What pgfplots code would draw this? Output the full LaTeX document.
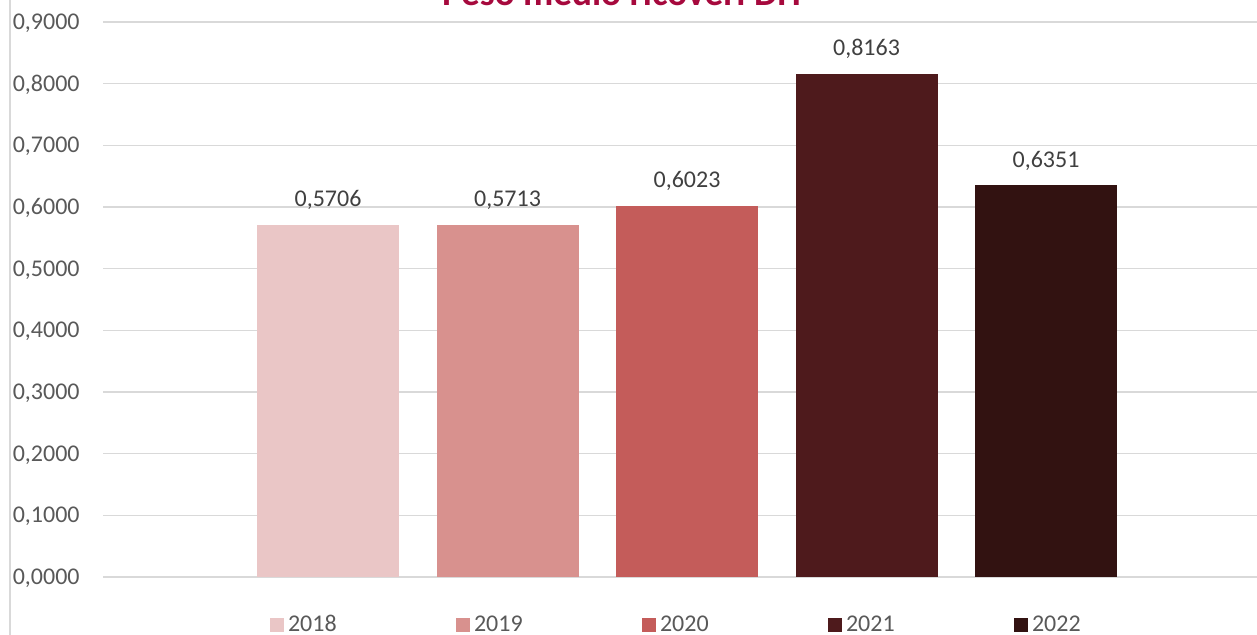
\documentclass[border=0pt]{standalone}
\usepackage{fontspec}
\setmainfont{Carlito}
\usepackage{pgfplots}
\pgfplotsset{compat=1.18}

\definecolor{c2018}{HTML}{EAC6C6}
\definecolor{c2019}{HTML}{D8918E}
\definecolor{c2020}{HTML}{C45C5A}
\definecolor{c2021}{HTML}{4E1A1C}
\definecolor{c2022}{HTML}{321211}
\definecolor{gridgray}{HTML}{D9D9D9}
\definecolor{ticktext}{HTML}{595959}
\definecolor{labeltext}{HTML}{404040}
\definecolor{titlered}{HTML}{A6093D}

\begin{document}
\begin{tikzpicture}
% 1 px of the reference = 0.5pt
\useasboundingbox (0,0) rectangle (628.5pt,317.5pt);
\draw[gridgray, line width=0.75pt] (5pt,0) -- (5pt,317.5pt);
\begin{axis}[
scale only axis,
width=577pt, height=277.5pt,
at={(51.5pt,29pt)}, anchor=south west,
xmin=-1.2535, xmax=5.1755,
ymin=0, ymax=0.9,
ytick={0,0.1,0.2,0.3,0.4,0.5,0.6,0.7,0.8,0.9},
xtick=\empty,
axis line style={draw=none},
major tick length=0pt,
ymajorgrids,
grid style={gridgray, line width=0.6pt},
/pgf/number format/.cd, fixed, fixed zerofill, precision=4, use comma, assume math mode=true,
/pgfplots/.cd,
yticklabel style={font=\fontsize{12}{14.4}\selectfont, color=ticktext, anchor=base east, inner sep=0pt, xshift=-11.5pt, yshift=-3.8pt},
title={Peso medio ricoveri DH},
every axis title shift=0pt,
title style={at={(0.4493,1.0306)}, anchor=base, inner sep=0pt, font=\fontsize{18.6}{22}\selectfont\bfseries, color=titlered},
ybar,
bar width=71pt,
nodes near coords,
every node near coord/.append style={font=\fontsize{12}{14.4}\selectfont, color=labeltext, anchor=base, inner sep=0pt, yshift=9.15pt},
legend columns=5,
legend image code/.code={\path[#1, draw=none] (0pt,-3.5pt) rectangle (7pt,3.5pt);},
legend style={at={(0.1392,-0.0865)}, anchor=west, draw=none, fill=none, column sep=0pt,
  nodes={inner sep=0pt}, font=\fontsize{12}{14.4}\selectfont, text=ticktext},
]
\addplot[fill=c2018, draw=none, bar shift=0pt] coordinates {(0,0.5706)};
\addlegendentry{\makebox[86pt][l]{\hspace{2pt}2018}}
\addplot[fill=c2019, draw=none, bar shift=0pt] coordinates {(1,0.5713)};
\addlegendentry{\makebox[86pt][l]{\hspace{2pt}2019}}
\addplot[fill=c2020, draw=none, bar shift=0pt] coordinates {(2,0.6023)};
\addlegendentry{\makebox[86pt][l]{\hspace{2pt}2020}}
\addplot[fill=c2021, draw=none, bar shift=0pt] coordinates {(3,0.8163)};
\addlegendentry{\makebox[86pt][l]{\hspace{2pt}2021}}
\addplot[fill=c2022, draw=none, bar shift=0pt] coordinates {(4,0.6351)};
\addlegendentry{\makebox[30pt][l]{\hspace{2pt}2022}}
\end{axis}
\end{tikzpicture}
\end{document}
